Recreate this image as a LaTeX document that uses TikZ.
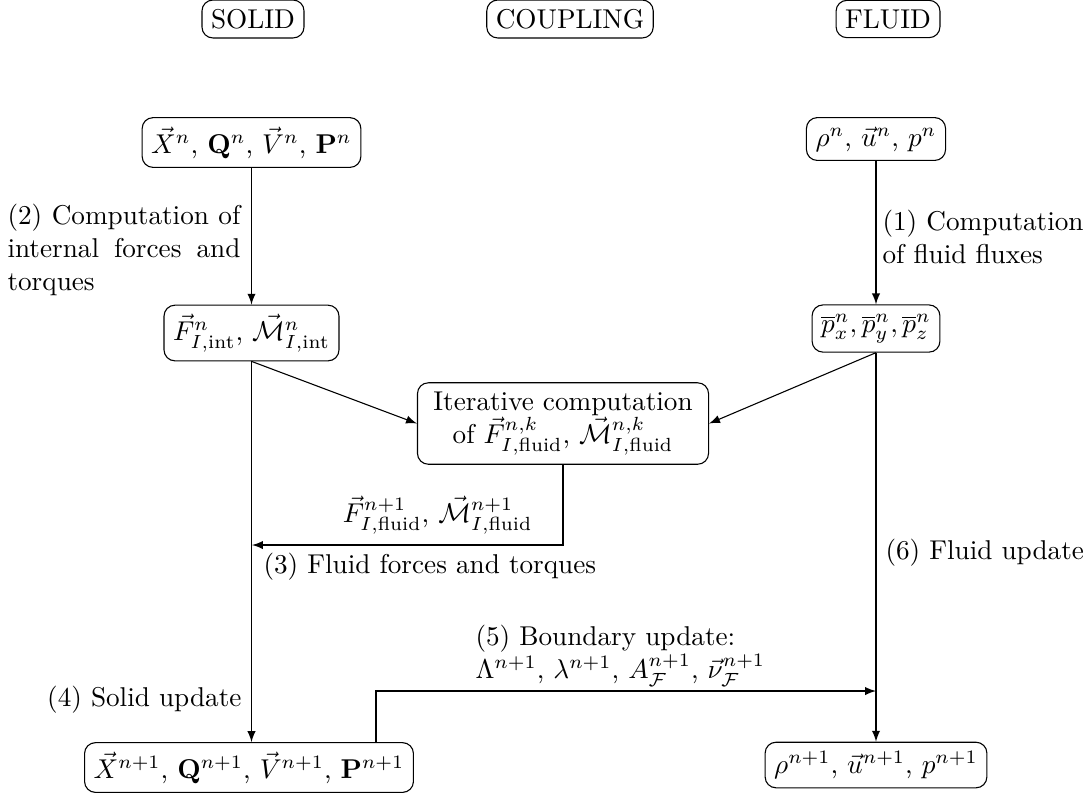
\documentclass[tikz,border=0pt]{standalone}
\usepackage{amsmath}
\usetikzlibrary{arrows}
\begin{document}
\begin{tikzpicture}[x=0.3676pt,y=-0.3676pt,>=latex,
  box/.style={draw,rounded corners=4pt},
  lbl/.style={inner sep=0pt},
  conn/.style={->}]
\useasboundingbox (0,0) rectangle (1091,796);
% headers
\node[box] (solidH) at (253,19) {SOLID};
\node[box] (coupH) at (570,19) {COUPLING};
\node[box] (fluidH) at (888,19) {FLUID};
% nodes
\node[box] (Xn) at (251.5,142.5) {$\vec{X}^n$, $\mathbf{Q}^n$, $\vec{V}^n$, $\mathbf{P}^n$};
\node[box] (rhon) at (876,139) {$\rho^n$, $\vec{u}^n$, $p^n$};
\node[box] (Fint) at (251.5,333) {$\vec{F}^n_{I,\text{int}}$, $\vec{\mathcal{M}}^n_{I,\text{int}}$};
\node[box] (pbar) at (876,328.5) {$\overline{p}^n_x,\overline{p}^n_y,\overline{p}^n_z$};
\node[box,align=center,minimum width=107pt] (iter) at (563,423.5) {Iterative computation\\of $\vec{F}^{n,k}_{I,\text{fluid}}$, $\vec{\mathcal{M}}^{n,k}_{I,\text{fluid}}$};
\node[box] (Xn1) at (249,767.5) {$\vec{X}^{n+1}$, $\mathbf{Q}^{n+1}$, $\vec{V}^{n+1}$, $\mathbf{P}^{n+1}$};
\node[box] (rhon1) at (876,765) {$\rho^{n+1}$, $\vec{u}^{n+1}$, $p^{n+1}$};
% labels
\node[lbl,anchor=west,text width=85.6pt,align=justify] (l2) at (7,250) {(2) Computation of internal forces and torques};
\node[lbl,anchor=west,align=left] (l1) at (882,237) {(1) Computation\\of fluid fluxes};
\node[lbl,anchor=south east] (lF) at (533,535) {$\vec{F}^{n+1}_{I,\text{fluid}}$, $\vec{\mathcal{M}}^{n+1}_{I,\text{fluid}}$};
\node[lbl,anchor=west] (l3) at (263,567) {(3) Fluid forces and torques};
\node[lbl,anchor=east] (l4) at (242,700) {(4) Solid update};
\node[lbl,anchor=west] (l6) at (885,553) {(6) Fluid update};
\node[lbl,anchor=west,align=left] (l5) at (475,656) {(5) Boundary update:\\$\Lambda^{n+1}$, $\lambda^{n+1}$, $A^{n+1}_{\mathcal{F}}$, $\vec{\nu}^{n+1}_{\mathcal{F}}$};
% coordinates
\coordinate (c3) at (252,545);
\coordinate (c5) at (376,691);
% connectors
\draw[conn] (Xn) -- (Fint);
\draw[conn] (rhon) -- (pbar);
\draw[conn] (Fint.south) -- (iter.west);
\draw[conn] (pbar.south) -- (iter.east);
\draw[conn] (Fint.south) -- (Fint.south |- Xn1.north);
\draw[conn] (pbar.south) -- (pbar.south |- rhon1.north);
\draw[conn] (iter.south) |- (c3);
\draw[conn] (c5 |- Xn1.north) -- (c5) -- (c5 -| pbar.south);
\end{tikzpicture}
\end{document}
